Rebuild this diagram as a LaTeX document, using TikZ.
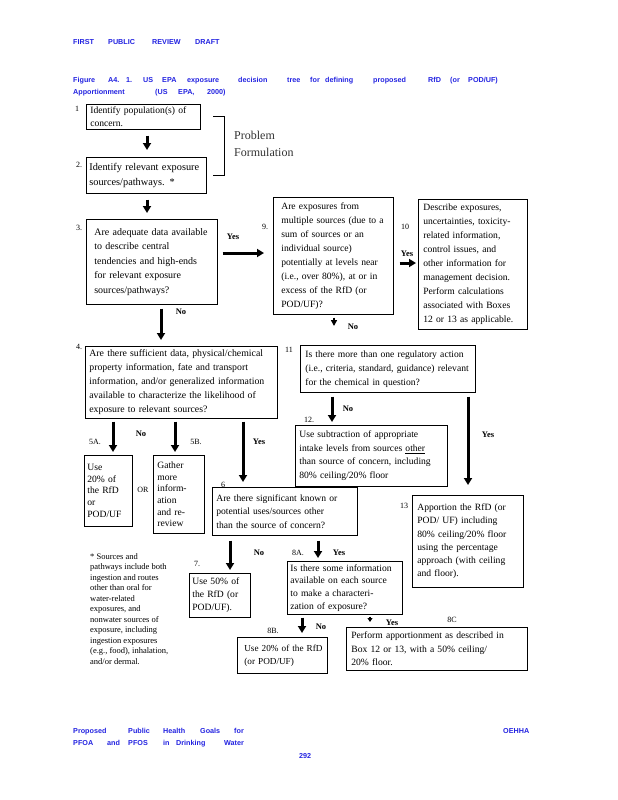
\documentclass[tikz,border=0pt]{standalone}
\usepackage{fontspec}
\setmainfont{Liberation Serif}
\newfontfamily\hdrfont{Liberation Sans}
\usetikzlibrary{arrows.meta,calc}
\definecolor{hdrblue}{RGB}{35,35,225}
\newcommand\hdrword[4]{\node[hdr,name=#1] at (#2,#3) {#4};}
\begin{document}
\begin{tikzpicture}[x=1pt,y=-1pt,
  box/.style={draw, line width=0.7pt, anchor=north west, align=left, inner xsep=5pt, inner ysep=1pt, font=\fontsize{9.6}{13.6}\selectfont},
  lbl/.style={font=\fontsize{8}{9}\selectfont, inner sep=0pt},
  ans/.style={font=\bfseries\fontsize{8.5}{10}\selectfont, inner sep=0pt},
  big/.style={line width=3pt, -{Triangle[width=8pt,length=7pt]}},
  mid/.style={line width=2pt, -{Triangle[width=6pt,length=6pt]}},
  tiny/.style={line width=1.2pt, -{Triangle[width=5pt,length=4pt]}},
  hdr/.style={font=\hdrfont\bfseries\fontsize{7.2}{8}\selectfont, text=hdrblue, anchor=base west, inner sep=0pt},
]
\useasboundingbox[fill=white] (0,0) rectangle (618,800);

% header
\hdrword{h1}{73}{45}{FIRST}
\hdrword{h2}{108}{45}{PUBLIC}
\hdrword{h3}{152}{45}{REVIEW}
\hdrword{h4}{195}{45}{DRAFT}
% caption
\hdrword{c1}{73}{82}{Figure}
\hdrword{c2}{108}{82}{A4.}
\hdrword{c3}{126}{82}{1.}
\hdrword{c4}{143}{82}{US}
\hdrword{c5}{162}{82}{EPA}
\hdrword{c6}{187}{82}{exposure}
\hdrword{c7}{238}{82}{decision}
\hdrword{c8}{287}{82}{tree}
\hdrword{c9}{310}{82}{for}
\hdrword{c10}{325}{82}{defining}
\hdrword{c11}{373}{82}{proposed}
\hdrword{c12}{428}{82}{RfD}
\hdrword{c13}{450}{82}{(or}
\hdrword{c14}{468}{82}{POD/UF)}
\hdrword{c15}{73}{94}{Apportionment}
\hdrword{c16}{155}{94}{(US}
\hdrword{c17}{178}{94}{EPA,}
\hdrword{c18}{207}{94}{2000)}
% footer
\hdrword{f1}{73}{733}{Proposed}
\hdrword{f2}{128}{733}{Public}
\hdrword{f3}{163}{733}{Health}
\hdrword{f4}{200}{733}{Goals}
\hdrword{f5}{234}{733}{for}
\hdrword{f6}{503}{733}{OEHHA}
\hdrword{f7}{73}{745}{PFOA}
\hdrword{f8}{107}{745}{and}
\hdrword{f9}{128}{745}{PFOS}
\hdrword{f10}{163}{745}{in}
\hdrword{f11}{176}{745}{Drinking}
\hdrword{f12}{224}{745}{Water}
\hdrword{f13}{299}{758}{292}

% boxes
\node[box, text width=106pt, minimum width=114pt, minimum height=25pt, inner xsep=4pt] (b1) at (86,104) {Identify population(s) of\\concern.};
\node[box, text width=114pt, minimum width=120pt, minimum height=36pt, inner xsep=3pt, font=\fontsize{10.3}{15}\selectfont] (b2) at (86,157) {Identify relevant exposure\\sources/pathways. *};
\node[box, text width=115pt, minimum width=131pt, minimum height=85pt, inner xsep=8pt, font=\fontsize{10}{14.4}\selectfont] (b3) at (86,219) {Are adequate data available\\to describe central\\tendencies and high-ends\\for relevant exposure\\sources/pathways?};
\node[box, text width=104pt, minimum width=120pt, minimum height=117pt, inner xsep=8pt, font=\fontsize{9.6}{14}\selectfont] (b9) at (273,197) {Are exposures from\\multiple sources (due to a\\sum of sources or an\\individual source)\\potentially at levels near\\(i.e., over 80\%), at or in\\excess of the RfD (or\\POD/UF)?};
\node[box, text width=99pt, minimum width=109pt, minimum height=130pt, font=\fontsize{9.6}{14}\selectfont] (b10) at (418,199) {Describe exposures,\\uncertainties, toxicity-\\related information,\\control issues, and\\other information for\\management decision.\\Perform calculations\\associated with Boxes\\12 or 13 as applicable.};
\node[box, text width=184pt, minimum width=192pt, minimum height=72pt, inner xsep=4pt, font=\fontsize{9.8}{14}\selectfont] (b4) at (85,346) {Are there sufficient data, physical/chemical\\property information, fate and transport\\information, and/or generalized information\\available to characterize the likelihood of\\exposure to relevant sources?};
\node[box, text width=165pt, minimum width=175pt, minimum height=47pt, font=\fontsize{9.6}{14}\selectfont] (b11) at (300,345) {Is there more than one regulatory action\\(i.e., criteria, standard, guidance) relevant\\for the chemical in question?};
\node[box, text width=144pt, minimum width=152pt, minimum height=61pt, inner xsep=4pt] (b12) at (295,425) {Use subtraction of appropriate\\intake levels from sources \underline{other}\\than source of concern, including\\80\% ceiling/20\% floor};
\node[box, text width=42pt, minimum width=48pt, minimum height=71pt, inner xsep=3pt, font=\fontsize{9.6}{11.6}\selectfont] (b5a) at (84,455) {Use\\20\% of\\the RfD\\or\\POD/UF};
\node[box, text width=43pt, minimum width=51pt, minimum height=78pt, inner xsep=4pt, font=\fontsize{9.6}{11.6}\selectfont] (b5b) at (153,455) {Gather\\more\\inform-\\ation\\and re-\\review};
\node[box, text width=137pt, minimum width=145pt, minimum height=48pt, inner xsep=4pt] (b6) at (212,487) {Are there significant known or\\potential uses/sources other\\than the source of concern?};
\node[box, text width=101pt, minimum width=111pt, minimum height=92pt, font=\fontsize{9.6}{13.3}\selectfont] (b13) at (412,495) {Apportion the RfD (or\\POD/ UF) including\\80\% ceiling/20\% floor\\using the percentage\\approach (with ceiling\\and floor).};
\node[box, text width=55pt, minimum width=61pt, minimum height=44pt, inner xsep=3pt, font=\fontsize{9.6}{13}\selectfont] (b7) at (189,573) {Use 50\% of\\the RfD (or\\POD/UF).};
\node[box, text width=109pt, minimum width=115pt, minimum height=53pt, inner xsep=3pt, font=\fontsize{9.6}{12.8}\selectfont] (b8a) at (287,561) {Is there some information\\available on each source\\to make a characteri-\\zation of exposure?};
\node[box, text width=86pt, minimum width=90pt, minimum height=36pt, inner xsep=2pt, font=\fontsize{9.2}{13}\selectfont] (b8b) at (237,637) {\hspace*{5pt}Use 20\% of the RfD\\\hspace*{5pt}(or POD/UF)};
\node[box, text width=171pt, minimum width=181pt, minimum height=43pt, font=\fontsize{9.6}{13.3}\selectfont] (b8c) at (346,627) {Perform apportionment as described in\\Box 12 or 13, with a 50\% ceiling/\\20\% floor.};

% problem formulation bracket
\node[anchor=north west, align=left, inner sep=0pt, font=\fontsize{12}{17}\selectfont, text=black!80] (pf) at (234,131) {Problem\\Formulation};
\draw[line width=0.7pt] (213,116) -- (224,116) -- (224,175) -- (213,175);

% footnote
\node[anchor=north west, align=left, inner sep=0pt, font=\fontsize{8.5}{10.5}\selectfont] (fn) at (90,553) {* Sources and\\pathways include both\\ingestion and routes\\other than oral for\\water-related\\exposures, and\\nonwater sources of\\exposure, including\\ingestion exposures\\(e.g., food), inhalation,\\and/or dermal.};

% number labels
\node[lbl] (n1) at (77,109) {1};
\node[lbl] (n2) at (79,165) {2.};
\node[lbl] (n3) at (79,228) {3.};
\node[lbl] (n9) at (265,227) {9.};
\node[lbl] (n10) at (405,227) {10};
\node[lbl] (n4) at (79,347) {4.};
\node[lbl] (n11) at (289,350) {11};
\node[lbl] (n12) at (309,420) {12.};
\node[lbl] (n5a) at (95,442) {5A.};
\node[lbl] (n5b) at (196,442) {5B.};
\node[lbl] (n6) at (223,485) {6};
\node[lbl] (n13) at (404,506) {13};
\node[lbl] (n7) at (197,564) {7.};
\node[lbl] (n8a) at (298,553) {8A.};
\node[lbl] (n8b) at (273,631) {8B.};
\node[lbl] (n8c) at (452,620) {8C};

% answer labels
\node[ans] (y3) at (233,237) {Yes};
\node[ans] (no3) at (181,312) {No};
\node[ans] (y9) at (407,254) {Yes};
\node[ans] (no9) at (353,327) {No};
\node[ans] (no4) at (141,434) {No};
\node[ans] (y4) at (259,442) {Yes};
\node[lbl] (or) at (143,490) {OR};
\node[ans] (no11) at (348,409) {No};
\node[ans] (y11) at (488,435) {Yes};
\node[ans] (no6) at (259,553) {No};
\node[ans] (y6) at (339,553) {Yes};
\node[ans] (no8) at (321,627) {No};
\node[ans] (y8) at (392,623) {Yes};

% connectors
\draw[big] ($(b1.south west)+(61,6)$) -- ($(b2.north west)+(61,-7)$);
\draw[big] ($(b2.south west)+(61,6)$) -- ($(b3.north west)+(61,-6)$);
\draw[big] ($(b3.north east)+(5,34)$) -- ($(b9.north west)+(-9,56)$);
\draw[big] ($(b3.south west)+(75,4)$) -- ($(b4.north west)+(76,-6)$);
\draw[mid] ($(b9.south west)+(61,3)$) -- ($(b11.north west)+(34,-19)$);
\draw[big] ($(b9.north east)+(6,66)$) -- ($(b10.north west)+(-2,64)$);
\draw[big] ($(b4.south west)+(28,3)$) -- ($(b5a.north west)+(29,-3)$);
\draw[big] ($(b4.south west)+(90,3)$) -- ($(b5b.north west)+(22,-3)$);
\draw[big] ($(b4.south west)+(158,3)$) -- ($(b6.north west)+(31,-5)$);
\draw[big] ($(b11.south west)+(32,4)$) -- ($(b12.north west)+(37,-3)$);
\draw[big] ($(b11.south west)+(168,4)$) -- ($(b13.north west)+(56,-10)$);
\draw[big] ($(b6.south west)+(18,5)$) -- ($(b7.north west)+(41,-3)$);
\draw[big] ($(b6.south west)+(106,5)$) -- ($(b8a.north west)+(31,-3)$);
\draw[big] ($(b8a.south west)+(15,3)$) -- ($(b8b.north west)+(65,-4)$);
\draw[tiny] ($(b8a.south west)+(83,2)$) -- ($(b8c.north west)+(24,-5)$);
\end{tikzpicture}
\end{document}
